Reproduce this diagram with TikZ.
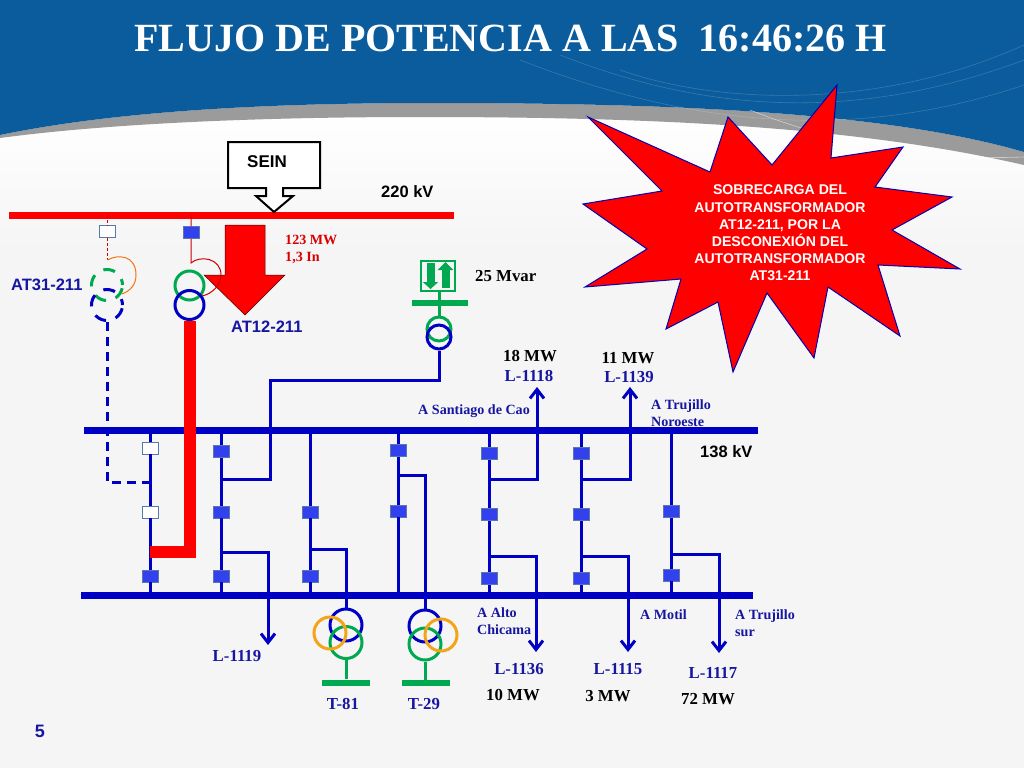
\documentclass[tikz,border=0pt]{standalone}
\usepackage{fontspec}
\setmainfont{Liberation Serif}
\setsansfont{Liberation Sans}
\usetikzlibrary{calc}
\usetikzlibrary{positioning}
\usetikzlibrary{arrows.meta}
\definecolor{deepblue}{RGB}{0,0,196}
\definecolor{navytext}{RGB}{22,22,160}
\definecolor{brkblue}{RGB}{50,64,238}
\definecolor{brkedge}{RGB}{90,120,170}
\definecolor{trgreen}{RGB}{0,168,80}
\definecolor{trorange}{RGB}{244,164,24}
\definecolor{skyblue}{RGB}{11,92,156}
\definecolor{bandgray}{RGB}{155,155,155}
\definecolor{paper}{RGB}{245,245,246}
\begin{document}
\begin{tikzpicture}[x=1pt,y=-1pt]
\tikzstyle{bus}=[rectangle,draw=none,fill=deepblue,inner sep=0pt,minimum height=7pt]
\tikzstyle{hibus}=[bus,fill=red]
\tikzstyle{bar}=[rectangle,draw=none,fill=trgreen,inner sep=0pt,minimum width=48pt,minimum height=6pt]
\tikzstyle{brk}=[rectangle,draw=brkedge,line width=0.5pt,fill=brkblue,inner sep=0pt,minimum width=16pt,minimum height=12pt]
\tikzstyle{brkopen}=[brk,fill=white]
\tikzstyle{wire}=[draw=deepblue,line width=3pt]
\tikzstyle{feeder}=[wire,-{Straight Barb[length=9pt,width=14pt]}]
\tikzstyle{dashwire}=[wire,dash pattern=on 9pt off 6pt]
\tikzstyle{thinred}=[draw=red!80!black,line width=1pt]
\tikzstyle{coil}=[circle,draw,line width=3pt,inner sep=0pt,minimum size=32pt,fill=none]
\tikzstyle{bluecoil}=[coil,draw=deepblue]
\tikzstyle{greencoil}=[coil,draw=trgreen]
\tikzstyle{orangecoil}=[coil,draw=trorange]
\tikzstyle{offcoil}=[minimum size=31pt,dash pattern=on 12pt off 10pt,dash phase=6pt]
\tikzstyle{sanslabel}=[font=\sffamily\bfseries\fontsize{16.5}{19}\selectfont,inner sep=0pt]
\tikzstyle{linelabel}=[font=\bfseries\fontsize{16.8}{19}\selectfont,text=navytext,inner sep=0pt]
\tikzstyle{mwlabel}=[font=\bfseries\fontsize{16.8}{19}\selectfont,text=black,inner sep=0pt]
\tikzstyle{sitelabel}=[font=\bfseries\fontsize{14.1}{17}\selectfont,text=navytext,inner sep=0pt,anchor=west,align=left]
\useasboundingbox (0, 0) rectangle (1024, 768);
% slide background
\fill[paper] (0, 0) rectangle (1024, 768);
\shade[top color=white,bottom color=paper] (0, 110) rectangle (1024, 250);
\fill[bandgray] (0, 100) -- (0, 135) .. controls (130, 108) and (300, 103) .. (430, 103)
  .. controls (650, 103) and (880, 110) .. (1024, 152) -- (1024, 165)
  .. controls (850, 125) and (640, 117) .. (420, 117)
  .. controls (280, 117) and (120, 122) .. (0, 138) -- cycle;
\fill[skyblue] (0, 0) rectangle (1024, 100);
\fill[skyblue] (0, 99) -- (0, 135) .. controls (130, 108) and (300, 103) .. (430, 103)
  .. controls (650, 103) and (880, 110) .. (1024, 152) -- (1024, 99) -- cycle;
\draw[white,opacity=0.18,line width=0.6pt] (560, 55) .. controls (700, 110) and (850, 125) .. (1024, 60);
\draw[white,opacity=0.18,line width=0.6pt] (520, 60) .. controls (700, 130) and (860, 140) .. (1024, 85);
\draw[white,opacity=0.18,line width=0.6pt] (620, 70) .. controls (720, 105) and (880, 110) .. (1024, 45);
\draw[white,opacity=0.5,line width=0.6pt] (750, 110) .. controls (850, 150) and (950, 160) .. (1024, 157);
% title
\node[font=\bfseries\fontsize{40}{42}\selectfont,text=white,inner sep=0pt] at(510.5, 39) (title) {FLUJO DE POTENCIA A LAS\ \ 16:46:26 H};
% buses
\node[hibus,minimum width=445pt] at(231.5, 215) (bushv) {};
\node[bus,minimum width=674pt] at(421, 430.5) (busa) {};
\node[bus,minimum width=672pt] at(417, 595.5) (busb) {};
\node[sanslabel,anchor=west] at(381, 192) (lblhv) {220 kV};
\node[sanslabel,anchor=west] at(700, 452) (lblmv) {138 kV};
% SEIN
\draw[black,fill=white,line width=2pt] (228, 142) -- (320, 142) -- (320, 188) -- (283, 188) -- (283, 196) -- (293, 196)
  -- (274, 212) -- (256, 196) -- (266, 196) -- (266, 188) -- (228, 188) -- cycle;
\node[sanslabel,font=\sffamily\bfseries\fontsize{17}{19}\selectfont] at(267, 162) (sein) {SEIN};
% breakers
\node[brkopen] at(107.5, 231.5) (bk31) {};
\node[brk] at(191, 232.5) (bk12) {};
\node[brkopen] at(150, 448) (bk1a) {};
\node[brkopen] at(150, 512) (bk1b) {};
\node[brk] at(150, 576) (bk1c) {};
\node[brk] at(221, 451.5) (bk2a) {};
\node[brk] at(221, 512) (bk2b) {};
\node[brk] at(221, 576) (bk2c) {};
\node[brk] at(310, 512) (bk3b) {};
\node[brk] at(310, 576) (bk3c) {};
\node[brk] at(398, 450.5) (bk4a) {};
\node[brk] at(398, 511) (bk4b) {};
\node[brk] at(489.5, 453.5) (bk5a) {};
\node[brk] at(489.5, 514.5) (bk5b) {};
\node[brk] at(489.5, 578.5) (bk5c) {};
\node[brk] at(581, 453.5) (bk6a) {};
\node[brk] at(581, 514.5) (bk6b) {};
\node[brk] at(581, 578.5) (bk6c) {};
\node[brk] at(671.5, 511.5) (bk7b) {};
\node[brk] at(671.5, 575) (bk7c) {};
% bays between the buses
\draw[wire] (bk1a |- busa) -- (bk1a) (bk1a) -- (bk1b) (bk1b) -- (bk1c) (bk1c) -- (bk1c |- busb);
\draw[wire] (bk2a |- busa) -- (bk2a) (bk2a) -- (bk2b) (bk2b) -- (bk2c) (bk2c) -- (bk2c |- busb);
\draw[wire] (bk3b |- busa) -- (bk3b) (bk3b) -- (bk3c) (bk3c) -- (bk3c |- busb);
\draw[wire] (bk4a |- busa) -- (bk4a) (bk4a) -- (bk4b) (bk4b) -- (bk4b |- busb);
\draw[wire] (bk5a |- busa) -- (bk5a) (bk5a) -- (bk5b) (bk5b) -- (bk5c) (bk5c) -- (bk5c |- busb);
\draw[wire] (bk6a |- busa) -- (bk6a) (bk6a) -- (bk6b) (bk6b) -- (bk6c) (bk6c) -- (bk6c |- busb);
\draw[wire] (bk7b |- busa) -- (bk7b) (bk7b) -- (bk7c) (bk7c) -- (bk7c |- busb);
% feeders
\coordinate (tip1119) at(268, 645);
\coordinate (tip1118) at(537, 387);
\coordinate (tip1139) at(630, 387);
\coordinate (tip1136) at(536, 652);
\coordinate (tip1115) at(628, 652);
\coordinate (tip1117) at(719, 653);
\draw[feeder] (bk2b |- 0, 552.5) -| (tip1119);
\draw[feeder] (bk5a |- 0, 479) -| (tip1118);
\draw[feeder] (bk6a |- 0, 479) -| (tip1139);
\draw[feeder] (bk5b |- 0, 556) -| (tip1136);
\draw[feeder] (bk6b |- 0, 556) -| (tip1115);
\draw[feeder] (bk7b |- 0, 554) -| (tip1117);
% T-81 and T-29
\node[bluecoil] at(346, 625) (tb81) {};
\node[greencoil] at(346, 642.5) (tg81) {};
\node[orangecoil] at(330, 633) (to81) {};
\node[bar] at(346, 682.5) (bar81) {};
\node[bluecoil] at(425, 626) (tb29) {};
\node[greencoil] at(425, 644) (tg29) {};
\node[orangecoil] at(441, 635) (to29) {};
\node[bar] at(426, 682.5) (bar29) {};
\draw[wire] (bk3b |- 0, 549) -| (tb81);
\draw[wire] (bk4a |- 0, 475) -| (tb29);
\draw[draw=trgreen,line width=3pt] (tg81) -- (bar81);
\draw[draw=trgreen,line width=3pt] (tg29) -- (tg29 |- bar29);
% reactive source
\node[rectangle,draw=trgreen,line width=2.5pt,inner sep=0pt,minimum width=34pt,minimum height=30pt] at(438, 276) (svc) {};
\draw[draw=trgreen,line width=8pt,-{Triangle[length=7pt,width=15pt]}] (430.5, 263) -- (430.5, 289);
\draw[draw=trgreen,line width=8pt,-{Triangle[length=8pt,width=15pt]}] (445.5, 288) -- (445.5, 262);
\node[bar,minimum width=56pt] at(440, 302.5) (barsvc) {};
\node[greencoil,minimum size=24pt] at(439, 329) (tgsvc) {};
\node[bluecoil,minimum size=24pt] at(439, 337) (tbsvc) {};
\draw[draw=trgreen,line width=3pt] (svc.south -| tgsvc) -- (tgsvc);
\draw[wire] (tbsvc) |- (270.5, 380) -- (270.5, 479) -- (bk2a |- 0, 479);
% AT31-211, out of service
\node[greencoil,offcoil] at(107, 285) (tg31) {};
\node[bluecoil,offcoil] at(107, 305) (tb31) {};
\coordinate (bend31) at(107, 482);
\coordinate (hook31) at(107.5, 260);
\draw[dashwire] (tb31) -- (bend31) -- (bend31 -| bk1a);
\draw[thinred,densely dashed] (bk31 |- bushv) -- (bk31) (bk31) -- (hook31);
\draw[draw=trorange!70!red,line width=1pt] (hook31) .. controls (118, 254) and (136, 255) .. (136, 275)
  .. controls (136, 285) and (130, 291) .. (122, 294);
% AT12-211, in service
\node[greencoil,minimum size=29pt] at(189.5, 285.5) (tg12) {};
\node[bluecoil,minimum size=29pt] at(189.5, 305) (tb12) {};
\coordinate (hook12) at(191, 263);
\coordinate (bend12) at(189.5, 552);
\draw[draw=red,line width=12pt] (tb12) -- (bend12) -- (bend12 -| bk1c);
\draw[fill=red,draw=black!70!red,line width=0.5pt] (225, 225) -- (265, 225) -- (265, 275) -- (285, 275) -- (245, 315) -- (204, 275) -- (225, 275) -- cycle;
\draw[thinred] (bk12 |- bushv) -- (bk12) (bk12) -- (hook12) .. controls (200, 255) and (221, 258) .. (221, 275)
  .. controls (221, 285) and (212, 294) .. (202, 296);
% labels
\node[sanslabel,text=navytext,anchor=west] at(11, 284.5) (lbl31) {AT31-211};
\node[sanslabel,text=navytext,anchor=west] at(231, 327) (lbl12) {AT12-211};
\node[font=\bfseries\fontsize{14.1}{17}\selectfont,text=red!85!black,inner sep=0pt,anchor=west,align=left] at(285, 249.5) (lblload) {123 MW\\1,3 In};
\node[mwlabel,anchor=west] at(475, 276) (lblsvc) {25 Mvar};
\node[mwlabel] at(530, 356) (mw1118) {18 MW};
\node[linelabel] at(529, 376) (l1118) {L-1118};
\node[mwlabel] at(628, 358) (mw1139) {11 MW};
\node[linelabel] at(629, 377) (l1139) {L-1139};
\node[sitelabel] at(418, 411) (sitecao) {A Santiago de Cao};
\node[sitelabel] at(651, 413.5) (sitenor) {A Trujillo\\Noroeste};
\node[linelabel] at(237, 656) (l1119) {L-1119};
\node[linelabel] at(343, 704) (t81) {T-81};
\node[linelabel] at(424, 704) (t29) {T-29};
\node[sitelabel] at(477, 621.5) (sitealto) {A Alto\\Chicama};
\node[sitelabel] at(640, 615) (sitemotil) {A Motil};
\node[sitelabel] at(735, 623.5) (sitesur) {A Trujillo\\sur};
\node[linelabel] at(519, 669) (l1136) {L-1136};
\node[linelabel] at(618, 669) (l1115) {L-1115};
\node[linelabel] at(713, 673) (l1117) {L-1117};
\node[mwlabel] at(513, 695) (mw1136) {10 MW};
\node[mwlabel] at(608, 696) (mw1115) {3 MW};
\node[mwlabel] at(708, 699) (mw1117) {72 MW};
\node[sanslabel,text=navytext,font=\sffamily\bfseries\fontsize{18}{20}\selectfont] at(40, 731) (pagenum) {5};
% alarm star
\draw[fill=red,draw=blue!70!black,line width=1pt] (588, 117) -- (710, 172) -- (728, 117) -- (772, 165) -- (837, 85) -- (831, 158)
  -- (903, 147) -- (875, 187) -- (952, 197) -- (892, 230) -- (960, 269) -- (878, 265) -- (900, 336) -- (828, 287)
  -- (814, 358) -- (767, 293) -- (733, 372) -- (718, 302) -- (666, 329) -- (681, 279) -- (585, 287) -- (647, 249)
  -- (583, 204) -- (662, 191) -- cycle;
\node[font=\sffamily\bfseries\fontsize{14.1}{17.2}\selectfont,text=white,align=center,inner sep=0pt] at(780, 233) (alarm) {SOBRECARGA DEL\\AUTOTRANSFORMADOR\\AT12-211, POR LA\\DESCONEXIÓN DEL\\AUTOTRANSFORMADOR\\AT31-211};
\end{tikzpicture}
\end{document}
